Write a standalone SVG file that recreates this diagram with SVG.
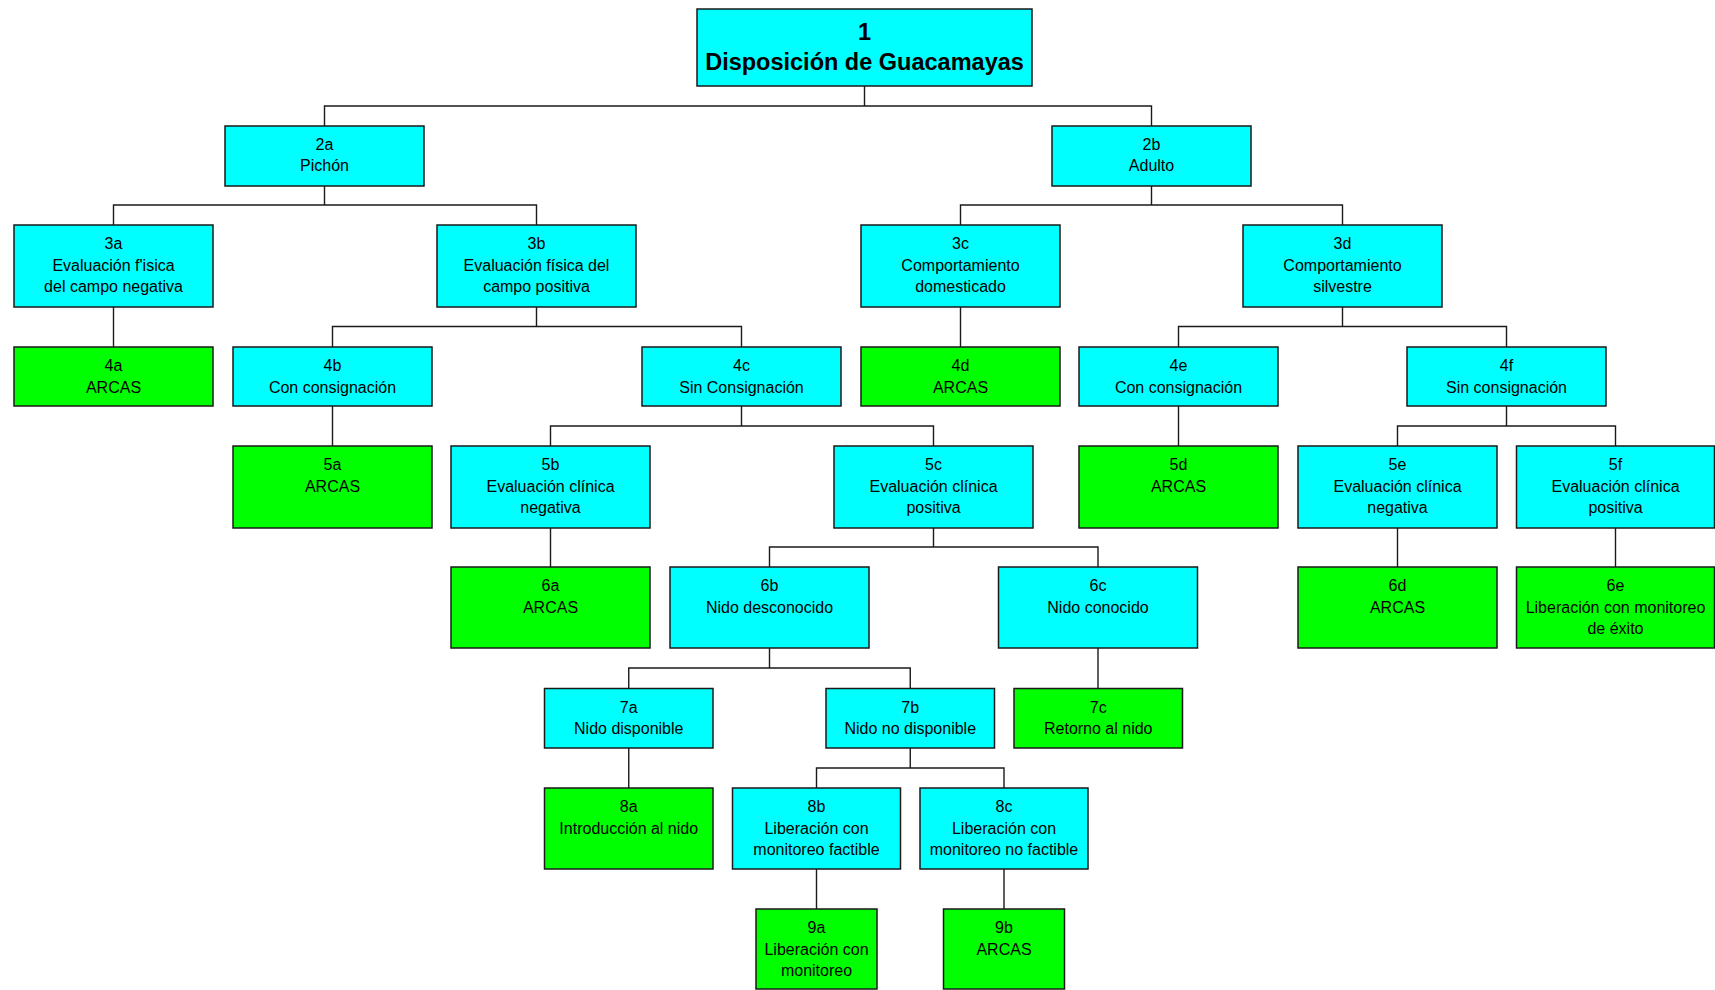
<svg xmlns="http://www.w3.org/2000/svg" width="1715" height="990" viewBox="0 0 1715 990">
<style>
.c{fill:#00FFFF;stroke:#1a1a1a;stroke-width:1.5}
.g{fill:#00FF00;stroke:#1a1a1a;stroke-width:1.5}
text{font-family:"Liberation Sans",Arial,sans-serif;font-size:16px;fill:#000;text-anchor:middle}
.t{font-size:23.5px;font-weight:bold}
#connectors path{fill:none;stroke:#1a1a1a;stroke-width:1.4}
</style>
<rect width="1715" height="990" fill="#ffffff"/>
<g id="connectors">
<path d="M864.5 86V106M324.5 126V106H1151.5V126"/>
<path d="M324.5 186V205M113.5 225V205H536.5V225"/>
<path d="M1151.5 186V205M960.5 225V205H1342.5V225"/>
<path d="M113.5 307V347"/>
<path d="M536.5 307V326.5M332.5 347V326.5H741.5V347"/>
<path d="M960.5 307V347"/>
<path d="M1342.5 307V326.5M1178.5 347V326.5H1506.5V347"/>
<path d="M332.5 406V446"/>
<path d="M741.5 406V426M550.5 446V426H933.5V446"/>
<path d="M1178.5 406V446"/>
<path d="M1506.5 406V426M1397.5 446V426H1615.5V446"/>
<path d="M550.5 528V567"/>
<path d="M933.5 528V547M769.5 567V547H1098V567"/>
<path d="M1397.5 528V567"/>
<path d="M1615.5 528V567"/>
<path d="M769.5 648V668M628.75 688.5V668H910.25V688.5"/>
<path d="M1098 648V688.5"/>
<path d="M628.75 748V788"/>
<path d="M910.25 748V768M816.5 788V768H1004V788"/>
<path d="M816.5 869V909"/>
<path d="M1004 869V909"/>
</g>
<g id="n1"><rect class="c" x="697" y="9" width="335" height="77"/><text class="t" x="864.5" y="39.5">1</text><text class="t" x="864.5" y="69.5">Disposición de Guacamayas</text></g>
<g id="n2a"><rect class="c" x="225" y="126" width="199" height="60"/><text x="324.5" y="150">2a</text><text x="324.5" y="171">Pichón</text></g>
<g id="n2b"><rect class="c" x="1052" y="126" width="199" height="60"/><text x="1151.5" y="150">2b</text><text x="1151.5" y="171">Adulto</text></g>
<g id="n3a"><rect class="c" x="14" y="225" width="199" height="82"/><text x="113.5" y="249">3a</text><text x="113.5" y="270.5">Evaluación f'isica</text><text x="113.5" y="292">del campo negativa</text></g>
<g id="n3b"><rect class="c" x="437" y="225" width="199" height="82"/><text x="536.5" y="249">3b</text><text x="536.5" y="270.5">Evaluación física del</text><text x="536.5" y="292">campo positiva</text></g>
<g id="n3c"><rect class="c" x="861" y="225" width="199" height="82"/><text x="960.5" y="249">3c</text><text x="960.5" y="270.5">Comportamiento</text><text x="960.5" y="292">domesticado</text></g>
<g id="n3d"><rect class="c" x="1243" y="225" width="199" height="82"/><text x="1342.5" y="249">3d</text><text x="1342.5" y="270.5">Comportamiento</text><text x="1342.5" y="292">silvestre</text></g>
<g id="n4a"><rect class="g" x="14" y="347" width="199" height="59"/><text x="113.5" y="371">4a</text><text x="113.5" y="392.5">ARCAS</text></g>
<g id="n4b"><rect class="c" x="233" y="347" width="199" height="59"/><text x="332.5" y="371">4b</text><text x="332.5" y="392.5">Con consignación</text></g>
<g id="n4c"><rect class="c" x="642" y="347" width="199" height="59"/><text x="741.5" y="371">4c</text><text x="741.5" y="392.5">Sin Consignación</text></g>
<g id="n4d"><rect class="g" x="861" y="347" width="199" height="59"/><text x="960.5" y="371">4d</text><text x="960.5" y="392.5">ARCAS</text></g>
<g id="n4e"><rect class="c" x="1079" y="347" width="199" height="59"/><text x="1178.5" y="371">4e</text><text x="1178.5" y="392.5">Con consignación</text></g>
<g id="n4f"><rect class="c" x="1407" y="347" width="199" height="59"/><text x="1506.5" y="371">4f</text><text x="1506.5" y="392.5">Sin consignación</text></g>
<g id="n5a"><rect class="g" x="233" y="446" width="199" height="82"/><text x="332.5" y="470">5a</text><text x="332.5" y="491.5">ARCAS</text></g>
<g id="n5b"><rect class="c" x="451" y="446" width="199" height="82"/><text x="550.5" y="470">5b</text><text x="550.5" y="491.5">Evaluación clínica</text><text x="550.5" y="513">negativa</text></g>
<g id="n5c"><rect class="c" x="834" y="446" width="199" height="82"/><text x="933.5" y="470">5c</text><text x="933.5" y="491.5">Evaluación clínica</text><text x="933.5" y="513">positiva</text></g>
<g id="n5d"><rect class="g" x="1079" y="446" width="199" height="82"/><text x="1178.5" y="470">5d</text><text x="1178.5" y="491.5">ARCAS</text></g>
<g id="n5e"><rect class="c" x="1298" y="446" width="199" height="82"/><text x="1397.5" y="470">5e</text><text x="1397.5" y="491.5">Evaluación clínica</text><text x="1397.5" y="513">negativa</text></g>
<g id="n5f"><rect class="c" x="1516.5" y="446" width="198" height="82"/><text x="1615.5" y="470">5f</text><text x="1615.5" y="491.5">Evaluación clínica</text><text x="1615.5" y="513">positiva</text></g>
<g id="n6a"><rect class="g" x="451" y="567" width="199" height="81"/><text x="550.5" y="591">6a</text><text x="550.5" y="612.5">ARCAS</text></g>
<g id="n6b"><rect class="c" x="670" y="567" width="199" height="81"/><text x="769.5" y="591">6b</text><text x="769.5" y="612.5">Nido desconocido</text></g>
<g id="n6c"><rect class="c" x="998.5" y="567" width="199" height="81"/><text x="1098" y="591">6c</text><text x="1098" y="612.5">Nido conocido</text></g>
<g id="n6d"><rect class="g" x="1298" y="567" width="199" height="81"/><text x="1397.5" y="591">6d</text><text x="1397.5" y="612.5">ARCAS</text></g>
<g id="n6e"><rect class="g" x="1516.5" y="567" width="198" height="81"/><text x="1615.5" y="591">6e</text><text x="1615.5" y="612.5">Liberación con monitoreo</text><text x="1615.5" y="634">de éxito</text></g>
<g id="n7a"><rect class="c" x="544.5" y="688.5" width="168.5" height="59.5"/><text x="628.75" y="712.5">7a</text><text x="628.75" y="734">Nido disponible</text></g>
<g id="n7b"><rect class="c" x="826" y="688.5" width="168.5" height="59.5"/><text x="910.25" y="712.5">7b</text><text x="910.25" y="734">Nido no disponible</text></g>
<g id="n7c"><rect class="g" x="1014" y="688.5" width="168.5" height="59.5"/><text x="1098.25" y="712.5">7c</text><text x="1098.25" y="734">Retorno al nido</text></g>
<g id="n8a"><rect class="g" x="544.5" y="788" width="168.5" height="81"/><text x="628.75" y="812">8a</text><text x="628.75" y="833.5">Introducción al nido</text></g>
<g id="n8b"><rect class="c" x="732.5" y="788" width="168" height="81"/><text x="816.5" y="812">8b</text><text x="816.5" y="833.5">Liberación con</text><text x="816.5" y="855">monitoreo factible</text></g>
<g id="n8c"><rect class="c" x="920" y="788" width="168" height="81"/><text x="1004" y="812">8c</text><text x="1004" y="833.5">Liberación con</text><text x="1004" y="855">monitoreo no factible</text></g>
<g id="n9a"><rect class="g" x="756" y="909" width="121" height="80"/><text x="816.5" y="933">9a</text><text x="816.5" y="954.5">Liberación con</text><text x="816.5" y="976">monitoreo</text></g>
<g id="n9b"><rect class="g" x="943.5" y="909" width="121" height="80"/><text x="1004" y="933">9b</text><text x="1004" y="954.5">ARCAS</text></g>
</svg>
